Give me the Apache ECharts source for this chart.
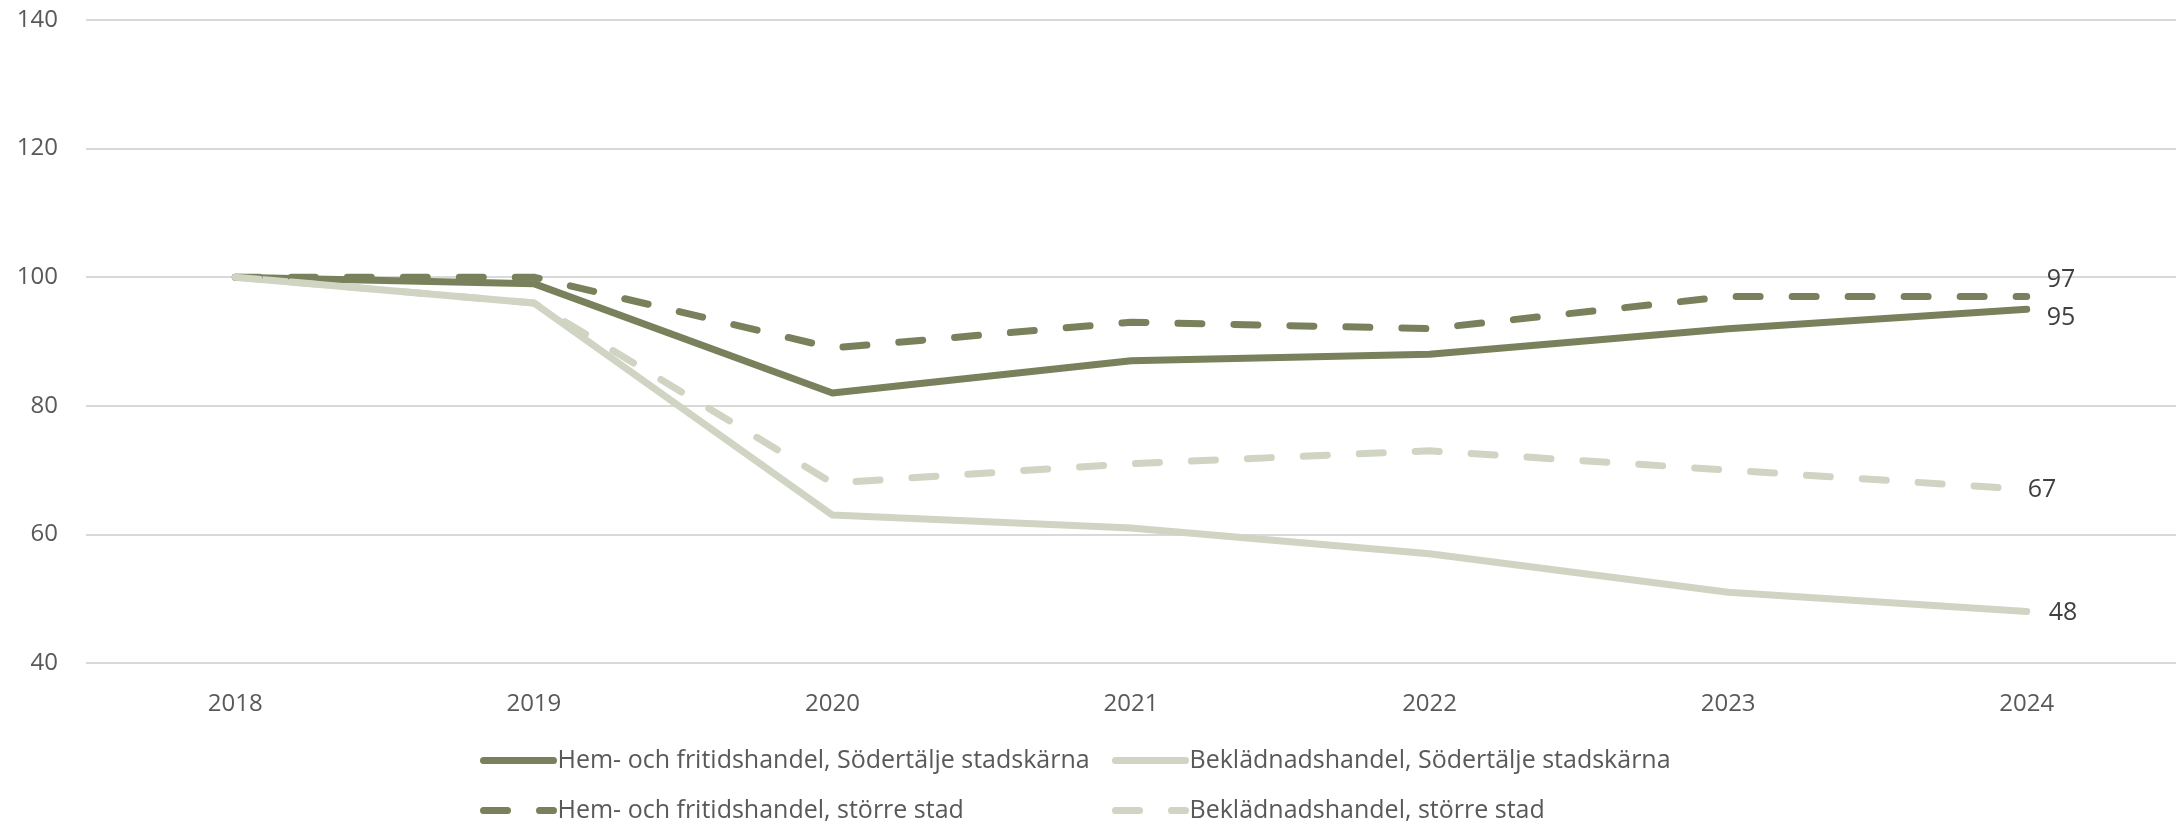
<!DOCTYPE html>
<html>
<head>
<meta charset="utf-8">
<script src="https://cdn.jsdelivr.net/npm/echarts@6/dist/echarts.min.js"></script>
<style>
    html, body { margin: 0; padding: 0; background: #fff; }
    #chart { width: 2183px; height: 826px; }
</style>
</head>
<body>
<div id="chart"></div>
<script>
// data
const years = ['2018', '2019', '2020', '2021', '2022', '2023', '2024'];
const hemSodertalje = [100, 99, 82, 87, 88, 92, 95];
const bekSodertalje = [100, 96, 63, 61, 57, 51, 48];
const hemStorre = [100, 100, 89, 93, 92, 97, 97];
const bekStorre = [100, 96, 68, 71, 73, 70, 67];
const names = [
    'Hem- och fritidshandel, Södertälje stadskärna',
    'Beklädnadshandel, Södertälje stadskärna',
    'Hem- och fritidshandel, större stad',
    'Beklädnadshandel, större stad'
];

const dark = '#78815B';
const light = '#D0D4C2';
const font = 'Open Sans';

const chart = echarts.init(document.getElementById('chart'));

function lineSeries(name, data, color, dashed, labelDist, labelOffset) {
    return {
        name: name,
        type: 'line',
        data: data,
        symbol: 'none',
        lineStyle: {
            color: color,
            width: 7,
            type: dashed ? [24, 32] : 'solid',
            cap: 'round',
            join: 'round'
        },
        itemStyle: { color: color },
        endLabel: {
            show: true,
            formatter: '{c}',
            distance: labelDist,
            offset: labelOffset,
            color: '#404040',
            fontFamily: font,
            fontSize: 25
        },
        emphasis: { disabled: true }
    };
}

function legendAt(name, left, top) {
    return {
        data: [name],
        left: left,
        top: top,
        padding: 0,
        itemWidth: 70,
        itemHeight: 10,
        itemGap: 0,
        // hide the symbol in the middle of the legend line
        itemStyle: { opacity: 0 },
        lineStyle: { width: 7, cap: 'round' },
        textStyle: {
            color: '#595959',
            fontFamily: font,
            fontSize: 25,
            padding: [0, 0, 0, -1]
        }
    };
}

chart.setOption({
    animation: false,
    grid: {
        left: 86,
        right: 7,
        top: 20,
        bottom: 163
    },
    legend: [
        legendAt(names[0], 480, 748),
        legendAt(names[1], 1112, 748),
        legendAt(names[2], 480, 798),
        legendAt(names[3], 1112, 798)
    ],
    xAxis: {
        type: 'category',
        data: years,
        boundaryGap: true,
        axisLine: { show: false },
        axisTick: { show: false },
        axisLabel: {
            color: '#595959',
            fontFamily: font,
            fontSize: 24,
            margin: 29
        }
    },
    yAxis: {
        type: 'value',
        min: 40,
        max: 140,
        interval: 20,
        axisLine: { show: false },
        axisTick: { show: false },
        axisLabel: {
            color: '#595959',
            fontFamily: font,
            fontSize: 24,
            margin: 28
        },
        splitLine: {
            lineStyle: { color: '#D9D9D9', width: 2 }
        }
    },
    series: [
        lineSeries(names[0], hemSodertalje, dark, false, 20, [0, 9]),
        lineSeries(names[1], bekSodertalje, light, false, 22, [0, 1]),
        lineSeries(names[2], hemStorre, dark, true, 20, [0, -17]),
        lineSeries(names[3], bekStorre, light, true, 1, [0, 0])
    ]
});
</script>
</body>
</html>
